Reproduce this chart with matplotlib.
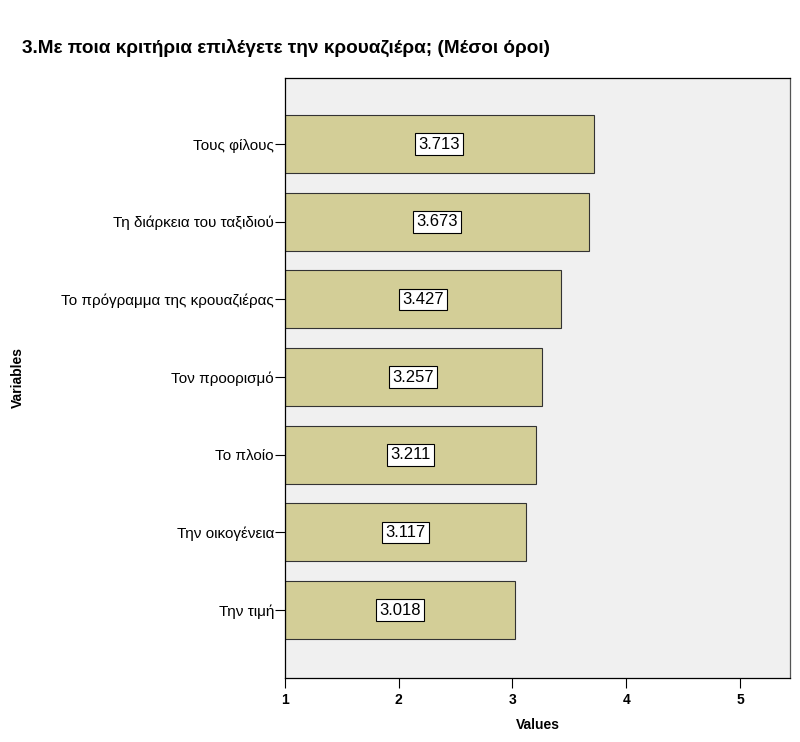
import matplotlib.pyplot as plt

plt.rcParams['font.family'] = ['Liberation Sans', 'DejaVu Sans']

# bottom to top
labels = ["Την τιμή", "Την οικογένεια", "Το πλοίο", "Τον προορισμό",
          "Το πρόγραμμα της κρουαζιέρας", "Τη διάρκεια του ταξιδιού", "Τους φίλους"]
means = [3.018, 3.117, 3.211, 3.257, 3.427, 3.673, 3.713]
xticks = [1, 2, 3, 4, 5]

fig = plt.figure(figsize=(8, 7.42), dpi=100)
ax = fig.add_axes([0.35625, 0.0863, 0.63125, 0.8086])
ax.set_facecolor('#f0f0f0')

pos = list(range(len(labels)))
widths = [m - 1 for m in means]
ax.barh(pos, widths, left=1, height=0.75, color='#d3ce97',
        edgecolor='#333333', linewidth=0.8, zorder=2)

for p, m in zip(pos, means):
    ax.text((1 + m) / 2, p, f"{m:.3f}", ha='center', va='center', fontsize=12,
            zorder=3, bbox=dict(boxstyle='square,pad=0.2', facecolor='white',
                                edgecolor='black', linewidth=0.8))

ax.set_xlim(1, 5.44)
ax.set_ylim(-0.875, 6.85)
ax.set_xticks(xticks)
ax.set_xticklabels([str(t) for t in xticks], fontweight='bold', fontsize=10)
ax.set_yticks(pos)
ax.set_yticklabels(labels, fontsize=11)
ax.tick_params(axis='y', length=7, width=0.8, pad=1)
ax.tick_params(axis='x', length=7, width=0.8)

for s in ['top', 'left', 'bottom']:
    ax.spines[s].set_color('black')
ax.spines['right'].set_color('#555555')
for s in ax.spines.values():
    s.set_linewidth(0.9)

ax.set_xlabel("Values", fontweight='bold', fontsize=10, labelpad=8)
ax.set_ylabel("Variables", fontweight='bold', fontsize=10)
ax.yaxis.set_label_coords(-0.515, 0.5)

fig.text(0.0275, 0.935, "3.Με ποια κριτήρια επιλέγετε την κρουαζιέρα; (Μέσοι όροι)",
         fontsize=13.7, fontweight='bold', ha='left', va='center')

fig.savefig("out.png", dpi=100)
